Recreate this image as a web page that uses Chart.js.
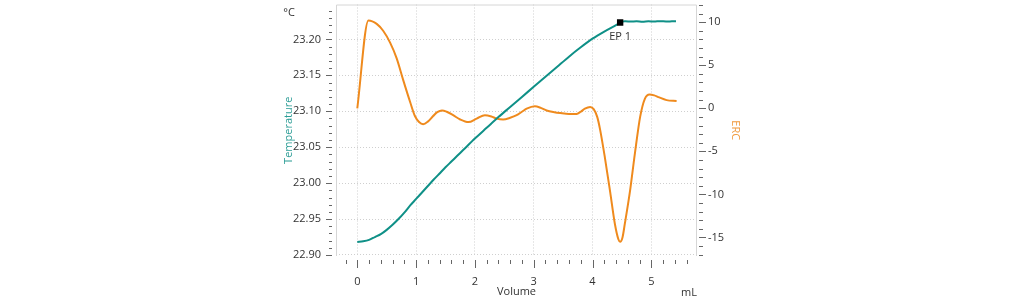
<!DOCTYPE html>
<html>
<head>
<meta charset="utf-8">
<script src="https://cdn.jsdelivr.net/npm/chart.js@4/dist/chart.umd.min.js"></script>
<style>
  html, body { margin: 0; padding: 0; background: #fff; }
  #wrap { width: 1024px; height: 306px; }
</style>
</head>
<body>
<div id="wrap"><canvas id="chart" width="1024" height="306"></canvas></div>
<script>
// --- data ---
var volumeT = [0, 0.1, 0.2, 0.3, 0.4, 0.5, 0.6, 0.7, 0.8, 0.9, 1.0, 1.1, 1.2, 1.3, 1.4, 1.5, 1.6, 1.7, 1.8, 2.0, 2.2, 2.4, 2.6, 2.8, 3.0, 3.2, 3.4, 3.6, 3.8, 4.0, 4.2, 4.4, 4.47, 4.55, 4.65, 4.75, 4.85, 4.95, 5.05, 5.15, 5.25, 5.35, 5.42];
var temperature = [22.918, 22.919, 22.921, 22.925, 22.929, 22.935, 22.942, 22.950, 22.959, 22.969, 22.978, 22.987, 22.996, 23.005, 23.0135, 23.022, 23.030, 23.038, 23.046, 23.062, 23.077, 23.092, 23.106, 23.120, 23.134, 23.148, 23.162, 23.176, 23.189, 23.201, 23.211, 23.220, 23.2236, 23.2252, 23.2248, 23.2253, 23.2246, 23.2252, 23.2249, 23.2254, 23.2250, 23.2252, 23.2253];

var volumeE = [0, 0.19, 0.33, 0.44, 0.56, 0.67, 0.78, 0.90, 0.98, 1.05, 1.12, 1.20, 1.29, 1.36, 1.44, 1.52, 1.63, 1.75, 1.89, 2.03, 2.17, 2.28, 2.37, 2.48, 2.60, 2.71, 2.80, 2.88, 3.02, 3.12, 3.22, 3.35, 3.45, 3.60, 3.73, 3.80, 3.87, 3.96, 4.02, 4.08, 4.13, 4.21, 4.30, 4.38, 4.44, 4.47, 4.51, 4.55, 4.64, 4.72, 4.81, 4.89, 4.97, 5.05, 5.12, 5.26, 5.43];
var erc = [0, 10.2, 9.8, 9.0, 7.6, 5.8, 3.3, 0.7, -0.9, -1.6, -1.85, -1.55, -0.9, -0.45, -0.25, -0.4, -0.8, -1.3, -1.6, -1.2, -0.8, -0.95, -1.2, -1.3, -1.1, -0.8, -0.4, -0.05, 0.23, 0.05, -0.25, -0.45, -0.55, -0.65, -0.65, -0.4, -0.05, 0.15, -0.1, -1.0, -2.5, -5.7, -9.7, -13.4, -15.2, -15.5, -15.0, -13.4, -9.5, -5.3, -1.0, 1.1, 1.6, 1.5, 1.3, 0.95, 0.85];

var endPointVolume = 4.47;
var endPointTemp = 23.2236;
var endPointLabel = 'EP 1';

var xTicks = [0, 1, 2, 3, 4, 5];
var tempTicks = [22.90, 22.95, 23.00, 23.05, 23.10, 23.15, 23.20];
var ercTicks = [-15, -10, -5, 0, 5, 10];

var TEAL = '#0f9087';
var ORANGE = '#ef8a1d';
var FONT = '"Open Sans", "Noto Sans", sans-serif';

function pairs(xs, ys) {
  return xs.map(function(x, i) { return { x: x, y: ys[i] }; });
}
function setTicks(list) {
  return function(scale) { scale.ticks = list.map(function(v) { return { value: v }; }); };
}
function fitWidth(w) {
  return function(s) { s.width = w; s.paddingTop = 0; s.paddingBottom = 0; };
}

// frame, minor/major tick marks and loose captions
var decorations = {
  id: 'decorations',
  beforeDatasetsDraw: function(chart) {
    var ctx = chart.ctx, a = chart.chartArea;
    ctx.save();
    ctx.strokeStyle = '#d6d6d6';
    ctx.lineWidth = 1;
    ctx.beginPath();
    ctx.moveTo(a.left + 0.5, a.bottom);
    ctx.lineTo(a.left + 0.5, a.top + 0.5);
    ctx.lineTo(a.right - 0.5, a.top + 0.5);
    ctx.lineTo(a.right - 0.5, a.bottom);
    ctx.stroke();
    ctx.restore();
  },
  afterDraw: function(chart) {
    var ctx = chart.ctx, a = chart.chartArea;
    var sx = chart.scales.x, sl = chart.scales.yT, sr = chart.scales.yE;
    var i, v, p, major;
    ctx.save();
    ctx.strokeStyle = '#666';
    ctx.lineWidth = 1;
    ctx.beginPath();
    for (i = -1; i <= 28; i++) {
      v = i * 0.2;
      major = (i % 5 === 0);
      p = Math.round(sx.getPixelForValue(v)) + 0.5;
      ctx.moveTo(p, a.bottom + 4);
      ctx.lineTo(p, a.bottom + (major ? 12 : 8));
    }
    for (i = 0; i <= 34; i++) {
      v = 22.90 + i * 0.01;
      major = (i % 5 === 0);
      p = Math.round(sl.getPixelForValue(v)) + 0.5;
      ctx.moveTo(a.left - 4, p);
      ctx.lineTo(a.left - (major ? 10 : 7), p);
    }
    for (i = -17; i <= 12; i++) {
      major = (i % 5 === 0);
      p = Math.round(sr.getPixelForValue(i)) + 0.5;
      ctx.moveTo(a.right + 2, p);
      ctx.lineTo(a.right + (major ? 9 : 6), p);
    }
    ctx.stroke();

    ctx.fillStyle = '#333';
    ctx.font = '11px ' + FONT;
    ctx.textAlign = 'center';
    ctx.textBaseline = 'middle';
    ctx.fillText('°C', 289, 13);
    ctx.fillText('mL', 689, 293);
    var ep = chart.getDatasetMeta(0).data[0];
    ctx.fillText(endPointLabel, ep.x, ep.y + 14);
    ctx.restore();
  }
};

new Chart(document.getElementById('chart').getContext('2d'), {
  type: 'scatter',
  data: {
    datasets: [
      {
        label: endPointLabel,
        data: [{ x: endPointVolume, y: endPointTemp }],
        yAxisID: 'yT',
        pointStyle: 'rect',
        pointRadius: 4.5,
        backgroundColor: '#000',
        borderColor: '#000',
        borderWidth: 0,
        showLine: false
      },
      {
        label: 'Temperature',
        data: pairs(volumeT, temperature),
        yAxisID: 'yT',
        showLine: true,
        borderColor: TEAL,
        borderWidth: 2,
        pointRadius: 0,
        tension: 0.3
      },
      {
        label: 'ERC',
        data: pairs(volumeE, erc),
        yAxisID: 'yE',
        showLine: true,
        borderColor: ORANGE,
        borderWidth: 2,
        pointRadius: 0,
        cubicInterpolationMode: 'monotone'
      }
    ]
  },
  options: {
    responsive: false,
    animation: false,
    events: [],
    layout: { padding: { left: 282, right: 282.4, top: 4, bottom: 7.4 } },
    plugins: { legend: { display: false }, tooltip: { enabled: false } },
    scales: {
      x: {
        type: 'linear',
        min: -0.362,
        max: 5.777,
        afterBuildTicks: setTicks(xTicks),
        afterFit: function(s) { s.height = 42.6; s.paddingLeft = 0; s.paddingRight = 0; },
        grid: { color: '#cfcfcf', drawTicks: false },
        border: { display: false, dash: [1, 2] },
        ticks: { color: '#333', padding: 19, font: { family: FONT, size: 11 }, maxRotation: 0 },
        title: { display: true, text: 'Volume', color: '#333', padding: 0, font: { family: FONT, size: 11 } }
      },
      yT: {
        type: 'linear',
        position: 'left',
        min: 22.8986,
        max: 23.2486,
        afterBuildTicks: setTicks(tempTicks),
        afterFit: fitWidth(54),
        grid: { color: '#cfcfcf', drawTicks: false },
        border: { display: false, dash: [1, 2] },
        ticks: { color: '#333', padding: 15, font: { family: FONT, size: 11 },
                 callback: function(v) { return v.toFixed(2); } },
        title: { display: true, text: 'Temperature', color: '#2c9d96', padding: 0, font: { family: FONT, size: 11 } }
      },
      yE: {
        type: 'linear',
        position: 'right',
        min: -17.15,
        max: 12.05,
        afterBuildTicks: setTicks(ercTicks),
        afterFit: fitWidth(44.6),
        grid: { drawOnChartArea: false, drawTicks: false },
        border: { display: false },
        ticks: { color: '#333', padding: 11, font: { family: FONT, size: 11 } },
        title: { display: true, text: 'ERC', color: '#f09a3e', padding: 0, font: { family: FONT, size: 11 } }
      }
    }
  },
  plugins: [decorations]
});
</script>
</body>
</html>
